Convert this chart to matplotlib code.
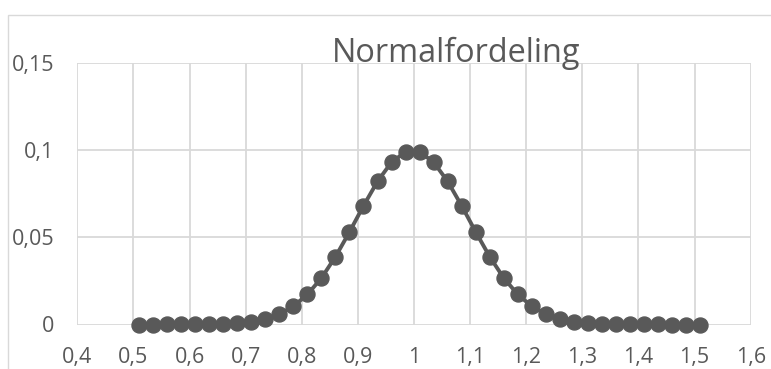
import matplotlib
matplotlib.use("Agg")
import matplotlib.pyplot as plt
from matplotlib.patches import Rectangle

# Data
x_values = [0.51, 0.535, 0.56, 0.585, 0.61, 0.635, 0.66, 0.685, 0.71, 0.735,
            0.76, 0.785, 0.81, 0.835, 0.86, 0.885, 0.91, 0.935, 0.96, 0.985,
            1.01, 1.035, 1.06, 1.085, 1.11, 1.135, 1.16, 1.185, 1.21, 1.235,
            1.26, 1.285, 1.31, 1.335, 1.36, 1.385, 1.41, 1.435, 1.46, 1.485, 1.51]
y_values = [0.0, 0.0, 0.00001, 0.00002, 0.00005, 0.00014, 0.00034, 0.00076, 0.0016, 0.0032,
            0.0059, 0.0104, 0.0172, 0.0266, 0.0388, 0.0530, 0.0680, 0.0820, 0.0930, 0.0989,
            0.0989, 0.0930, 0.0820, 0.0680, 0.0530, 0.0388, 0.0266, 0.0172, 0.0104, 0.0059,
            0.0032, 0.0016, 0.00076, 0.00034, 0.00014, 0.00005, 0.00002, 0.00001, 0.0, 0.0, 0.0]
x_ticks = [0.4, 0.5, 0.6, 0.7, 0.8, 0.9, 1.0, 1.1, 1.2, 1.3, 1.4, 1.5, 1.6]
x_tick_labels = ["0,4", "0,5", "0,6", "0,7", "0,8", "0,9", "1", "1,1", "1,2", "1,3", "1,4", "1,5", "1,6"]
y_ticks = [0, 0.05, 0.1, 0.15]
y_tick_labels = ["0", "0,05", "0,1", "0,15"]
title = "Normalfordeling"

W, H = 771, 369
FONT = ["Open Sans", "DejaVu Sans"]
TXT = "#595959"
GRID = "#d9d9d9"
LINE = "#595959"

fig = plt.figure(figsize=(W / 100, H / 100), dpi=100)
fig.patch.set_facecolor("white")

# outer chart border (extends beyond canvas at right/bottom)
fig.patches.append(Rectangle((8 / W, -0.1), 1.2, (H - 15) / H + 0.1,
                             transform=fig.transFigure, fill=False,
                             edgecolor=GRID, linewidth=1.0, zorder=0))

left, right, top, bottom = 77.3, 750.7, 62.7, 324.5
ax = fig.add_axes([left / W, (H - bottom) / H, (right - left) / W, (bottom - top) / H])
ax.set_xlim(0.4, 1.6)
ax.set_ylim(0, 0.15)
ax.set_xticks(x_ticks)
ax.set_yticks(y_ticks)
ax.set_xticklabels(x_tick_labels)
ax.set_yticklabels(y_tick_labels)
for s in ax.spines.values():
    s.set_visible(False)
ax.grid(True, color=GRID, linewidth=1.3)
ax.set_axisbelow(True)
ax.tick_params(length=0, labelsize=15.5, labelcolor=TXT)
ax.tick_params(axis="y", pad=16.5)
ax.tick_params(axis="x", pad=16.5)
for lab in ax.get_xticklabels() + ax.get_yticklabels():
    lab.set_fontfamily(FONT)

ax.plot(x_values, y_values, color=LINE, linewidth=2.8, marker="o",
        markersize=10.8, markerfacecolor=LINE, markeredgecolor=LINE,
        clip_on=False, zorder=3)

fig.text(456.5 / W, (H - 62.0) / H, title, ha="center", va="baseline",
         fontsize=23.4, color=TXT, family=FONT, zorder=5)

fig.savefig("out.png", dpi=100, facecolor="white")
